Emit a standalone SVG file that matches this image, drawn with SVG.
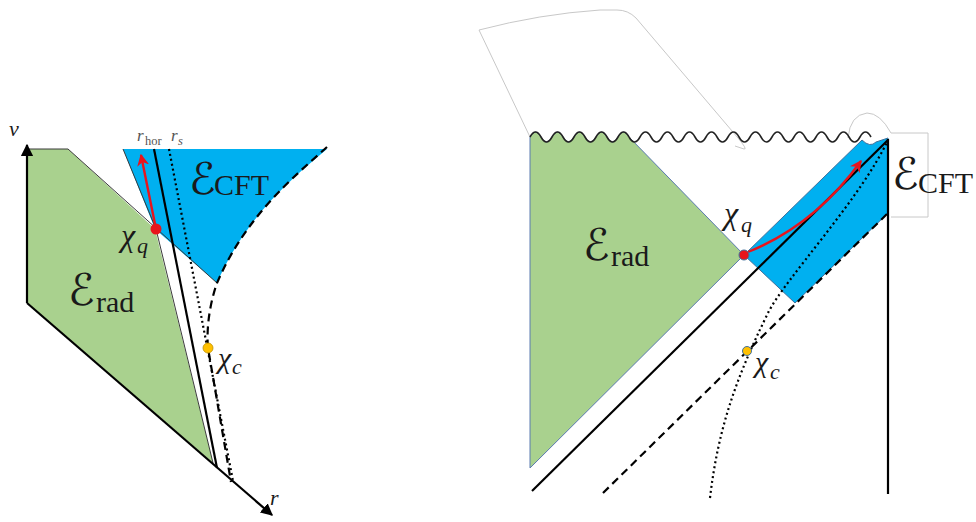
<svg xmlns="http://www.w3.org/2000/svg" width="976" height="522" viewBox="0 0 976 522">
<style>
.ln{fill:none;stroke:#000;stroke-width:2.2}
.thin{fill:none;stroke:#3a3a3a;stroke-width:1}
.frame{fill:none;stroke:#c8c8c8;stroke-width:1}
.green{fill:#a9d18e}
.blue{fill:#00b0f0}
.dot{fill:none;stroke:#000;stroke-width:2.2;stroke-dasharray:2 3}
.dash{fill:none;stroke:#000;stroke-width:2.2;stroke-dasharray:8 5}
.red{fill:none;stroke:#e8141c;stroke-width:2.4}
.t{font-family:"Liberation Serif","DejaVu Serif",serif;fill:#1a1a1a}
.i{font-style:italic}
.cal{font-family:"DejaVu Serif","DejaVu Sans",serif;font-style:normal}
.gray{fill:#555}
</style>
<defs>
<marker id="ah" viewBox="0 0 10 10" refX="9" refY="5" markerWidth="5" markerHeight="5" orient="auto" markerUnits="strokeWidth">
<path d="M0,0 L10,5 L0,10 L3,5 Z" fill="#e8141c"/>
</marker>
<marker id="bk" viewBox="0 0 10 10" refX="9" refY="5" markerWidth="5.5" markerHeight="5.5" orient="auto" markerUnits="strokeWidth">
<path d="M0,0 L10,5 L0,10 Z" fill="#000"/>
</marker>
</defs>

<g id="left-regions">
<path id="left-rad" class="green" d="M27,149 L68,149 L155,229 L213,463 L27,303 Z"/>
<path id="left-cft" class="blue" d="M123,149 L327,149 C290,180 245,218 217,283 L155,229 Z"/>
</g>

<g id="left-connectors">
<path class="thin" d="M27,149 L68,149 L217,283"/>
<path class="thin" d="M123,149 L156,229 L213,463"/>
<path class="ln" d="M27,303 L27,145" marker-end="url(#bk)"/>
<path class="ln" d="M27,303 L272,515" marker-end="url(#bk)"/>
<path class="ln" d="M154,149 L217,468"/>
<path class="dot" d="M169,149 L233,481"/>
<path class="dash" d="M327,147 C290,180 245,218 217,283 C211,300 206,325 208,348 L231,482"/>
<path class="red" d="M156,229 L141,155" marker-end="url(#ah)"/>
</g>

<g id="left-points">
<circle cx="156" cy="229" r="5.5" fill="#e8141c"/>
<circle cx="208" cy="348" r="5" fill="#ffc000" stroke="#bf9000" stroke-width="0.8"/>
</g>

<g id="left-labels">
<text class="t i" x="9" y="136" font-size="22">v</text>
<text class="t i" x="270" y="505" font-size="22">r</text>
<text class="t gray" font-size="17"><tspan class="i" x="137" y="141">r</tspan><tspan x="145" y="145" font-size="12.5">hor</tspan><tspan class="i" x="171" y="141">r</tspan><tspan class="i" x="178" y="145" font-size="12.5">s</tspan></text>
<text class="t" font-size="30"><tspan class="cal" x="189" y="194" font-size="44">ℰ</tspan><tspan x="214" y="195">CFT</tspan></text>
<text class="t" font-size="32"><tspan class="i" x="121" y="246">χ</tspan><tspan class="i" x="137" y="253" font-size="22">q</tspan></text>
<text class="t" font-size="30"><tspan class="cal" x="68" y="305" font-size="44">ℰ</tspan><tspan x="96" y="312">rad</tspan></text>
<text class="t" font-size="30"><tspan class="i" x="218" y="368">χ</tspan><tspan class="i" x="232" y="374" font-size="22">c</tspan></text>
</g>

<g id="right-frames">
<path class="frame" d="M530,137 L479,30 Q540,14 600,10 L617,10 Q628,10 636,18 L738,138 Q748,150 744,149 L735,146"/>
<path class="frame" d="M848,138 Q850,115 867,113 Q880,113 891,133 L928,133 L928,217 L891,217"/>
</g>

<g id="right-regions">
<path id="right-rad" class="green" stroke="#5b7bb0" stroke-width="1" d="M530,137 q5.5,-10 11,0 t11,0 t11,0 t11,0 t11,0 t11,0 t11,0 t11,0 t11,0 L744,255 L530,468 Z"/>
<path id="right-cft" class="blue" stroke="#41719c" stroke-width="1" d="M744,255 L862,140 Q870,148 876,142 L888,138 L888,213 L795,303 Z"/>
</g>

<g id="right-connectors">
<path fill="none" stroke="#222" stroke-width="1.6" d="M629,137 q5.5,10 11,0 t11,0 t11,0 t11,0 t11,0 t11,0 t11,0 t11,0 t11,0 t11,0 t11,0 t11,0 t11,0 t11,0 t11,0 t11,0 t11,0 t11,0 t11,0 t11,0 t11,0 t11,0"/>
<path fill="none" stroke="#222" stroke-width="1.6" d="M530,137 q5.5,-10 11,0 t11,0 t11,0 t11,0 t11,0 t11,0 t11,0 t11,0 t11,0"/>
<path class="ln" stroke-width="3" d="M532,491 L888,140"/>
<path class="ln" stroke-width="3" d="M888,139 L888,494"/>
<path class="dash" stroke-width="3" stroke-dasharray="13 9" d="M603,493 L888,213"/>
<path class="dot" stroke-width="3.8" stroke-dasharray="3.5 3.5" d="M710,498 C718,430 735,380 768,313 C784,280 860,200 888,140"/>
<path class="red" stroke-width="2.8" d="M748,252 Q815,225 861,161" marker-end="url(#ah)"/>
</g>

<g id="right-points">
<circle cx="744" cy="255" r="5" fill="#e8141c" stroke="#41719c" stroke-width="1"/>
<circle cx="747" cy="351" r="4.5" fill="#ffc000" stroke="#41719c" stroke-width="1"/>
</g>

<g id="right-labels">
<text class="t" font-size="32"><tspan class="i" x="724" y="224">χ</tspan><tspan class="i" x="741" y="232" font-size="22">q</tspan></text>
<text class="t" font-size="30"><tspan class="cal" x="583" y="260" font-size="44">ℰ</tspan><tspan x="611" y="266">rad</tspan></text>
<text class="t" font-size="30"><tspan class="cal" x="892" y="189" font-size="44">ℰ</tspan><tspan x="918" y="193">CFT</tspan></text>
<text class="t" font-size="30"><tspan class="i" x="755" y="372">χ</tspan><tspan class="i" x="770" y="379" font-size="22">c</tspan></text>
</g>
</svg>
